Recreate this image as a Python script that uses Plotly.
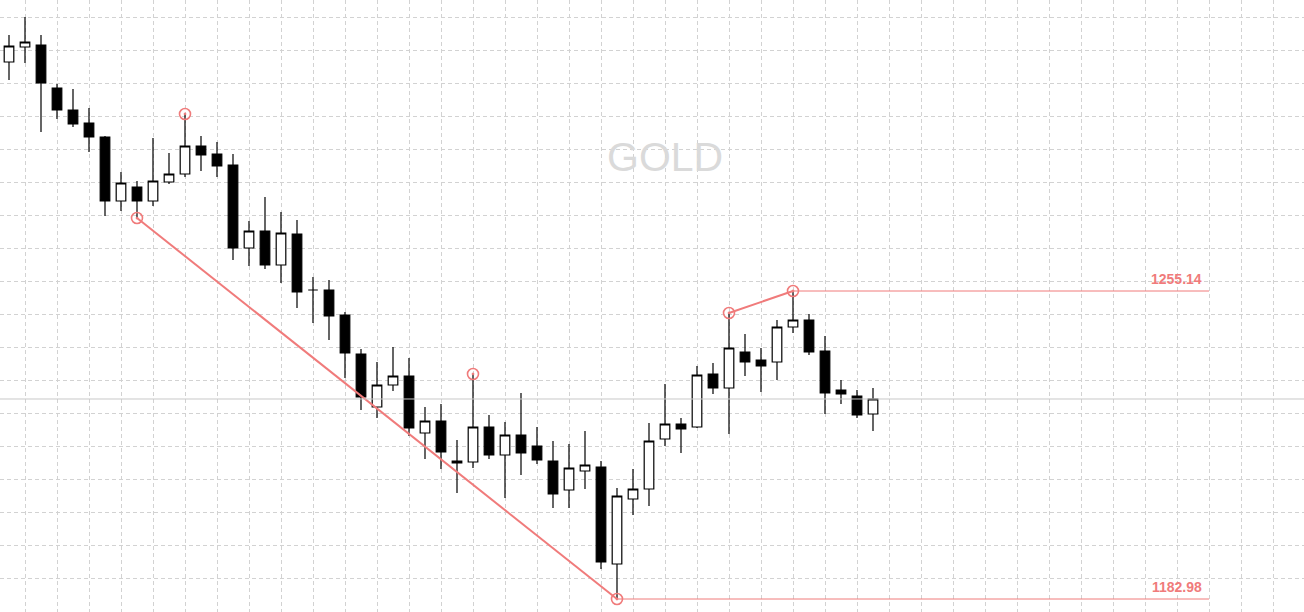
import plotly.graph_objects as go

# ---- data (prices) ----
idx = list(range(55))
opens = [1308.79, 1312.31, 1312.78, 1302.70, 1297.55, 1294.50, 1291.22, 1276.23, 1279.51, 1276.23,
         1280.68, 1282.55, 1289.11, 1287.24, 1284.66, 1265.22, 1269.20, 1261.23, 1268.50, 1255.38,
         1255.38, 1249.52, 1240.38, 1227.96, 1233.12, 1235.23, 1221.87, 1224.68, 1215.31, 1215.08,
         1223.28, 1216.72, 1221.40, 1218.83, 1215.31, 1208.52, 1212.97, 1213.91, 1191.18, 1206.41,
         1208.75, 1220.47, 1223.98, 1223.28, 1235.70, 1232.42, 1240.85, 1238.98, 1238.51, 1246.71,
         1248.35, 1241.08, 1231.95, 1230.54, 1226.32]
highs = [1315.12, 1319.34, 1315.12, 1303.64, 1302.47, 1298.02, 1291.46, 1283.02, 1280.91, 1290.99,
         1287.47, 1296.61, 1291.46, 1290.05, 1287.24, 1271.54, 1277.17, 1273.65, 1271.78, 1258.42,
         1257.72, 1250.22, 1241.55, 1238.51, 1242.02, 1239.44, 1227.96, 1228.67, 1220.23, 1235.70,
         1226.09, 1224.45, 1231.24, 1223.28, 1220.00, 1219.30, 1222.34, 1215.31, 1208.99, 1213.44,
         1224.22, 1233.35, 1225.39, 1237.57, 1238.27, 1249.99, 1245.07, 1241.79, 1248.35, 1255.14,
         1249.75, 1244.60, 1234.29, 1231.95, 1232.42]
lows = [1304.58, 1308.56, 1292.39, 1295.44, 1293.57, 1287.71, 1272.71, 1273.89, 1272.24, 1275.06,
        1280.21, 1281.85, 1283.26, 1281.85, 1262.40, 1261.00, 1260.30, 1257.02, 1251.16, 1247.64,
        1243.66, 1234.76, 1227.26, 1225.39, 1231.71, 1221.17, 1215.78, 1213.44, 1207.81, 1213.67,
        1215.78, 1206.64, 1212.03, 1214.61, 1204.30, 1204.30, 1208.75, 1190.01, 1182.98, 1202.66,
        1204.77, 1218.83, 1217.19, 1223.04, 1231.01, 1221.64, 1235.23, 1231.48, 1234.29, 1245.30,
        1240.15, 1226.32, 1228.67, 1225.39, 1222.34]
closes = [1312.54, 1313.48, 1303.87, 1297.55, 1294.27, 1291.22, 1276.23, 1280.44, 1276.23, 1280.91,
          1282.55, 1289.11, 1287.01, 1284.43, 1265.22, 1269.20, 1261.23, 1268.73, 1254.91, 1255.38,
          1249.28, 1240.62, 1230.31, 1233.12, 1235.23, 1223.04, 1224.68, 1217.42, 1214.84, 1223.28,
          1216.72, 1221.40, 1217.19, 1215.55, 1207.58, 1213.67, 1214.38, 1191.65, 1207.11, 1208.75,
          1220.00, 1223.98, 1222.81, 1235.46, 1232.42, 1241.79, 1238.51, 1237.57, 1246.71, 1248.35,
          1240.85, 1231.24, 1231.01, 1226.09, 1229.84]

pivot_idx = [11, 8, 29, 38, 45, 49]
pivot_val = [1296.61, 1272.24, 1235.70, 1182.98, 1249.99, 1255.14]
trend_low_idx = [8, 38]
trend_low_val = [1272.24, 1182.98]
trend_high_idx = [45, 49]
trend_high_val = [1249.99, 1255.14]
level_vals = [1255.14, 1182.98]
level_start = [49, 38]
level_end = 75
level_labels = ["1255.14", "1182.98"]
symbol = "GOLD"

RED = "#f07b7b"

fig = go.Figure()

fig.add_trace(go.Candlestick(
    x=idx, open=opens, high=highs, low=lows, close=closes,
    increasing=dict(fillcolor="white", line=dict(color="black", width=1.2)),
    decreasing=dict(fillcolor="black", line=dict(color="black", width=1.2)),
    whiskerwidth=0, showlegend=False, hoverinfo="skip"))

# trend lines
fig.add_trace(go.Scatter(x=trend_low_idx, y=trend_low_val, mode="lines",
                         line=dict(color=RED, width=2), showlegend=False, hoverinfo="skip"))
fig.add_trace(go.Scatter(x=trend_high_idx, y=trend_high_val, mode="lines",
                         line=dict(color=RED, width=2), showlegend=False, hoverinfo="skip"))

# level lines
for v, s in zip(level_vals, level_start):
    fig.add_trace(go.Scatter(x=[s, level_end], y=[v, v], mode="lines",
                             line=dict(color=RED, width=1), showlegend=False, hoverinfo="skip"))

# pivot markers
fig.add_trace(go.Scatter(x=pivot_idx, y=pivot_val, mode="markers",
                         marker=dict(symbol="circle-open-dot", size=11, color=RED,
                                     line=dict(color=RED, width=1.6)),
                         showlegend=False, hoverinfo="skip"))

# current price line
fig.add_shape(type="line", xref="paper", x0=0, x1=1, yref="y",
              y0=closes[-1], y1=closes[-1], line=dict(color="#c8c8c8", width=1))

for v, t in zip(level_vals, level_labels):
    fig.add_annotation(x=74.7, y=v, text="<b>" + t + "</b>", showarrow=False,
                       xanchor="right", yanchor="middle", yshift=12,
                       font=dict(family="Liberation Sans, Arial", size=14, color=RED))

fig.add_annotation(xref="paper", yref="paper", x=665 / 1304, y=1 - 157 / 612,
                   text=symbol, showarrow=False, xanchor="center", yanchor="middle",
                   font=dict(family="Liberation Sans, Arial", size=41, color="#dadada"))

# calibration of the price scale (pixel geometry)
px_per_unit = 308 / (1255.14 - 1182.98)
y_top = 1255.14 + 291 / px_per_unit
y_bot = 1255.14 - (612 - 291) / px_per_unit
grid_tick0 = 1255.14 + (291 - 17) / px_per_unit
grid_dtick = 33 / px_per_unit

fig.update_layout(
    width=1304, height=612,
    margin=dict(l=0, r=0, t=0, b=0),
    paper_bgcolor="white", plot_bgcolor="white",
    showlegend=False,
    boxgap=0.4, boxgroupgap=0,
    xaxis=dict(range=[-9 / 16, 1295 / 16], showticklabels=False, ticks="",
               showgrid=True, gridcolor="#d2d2d2", gridwidth=1, griddash="4px,3px",
               tick0=1, dtick=2, zeroline=False, rangeslider=dict(visible=False),
               showline=False, fixedrange=True),
    yaxis=dict(range=[y_bot, y_top], showticklabels=False, ticks="",
               showgrid=True, gridcolor="#d2d2d2", gridwidth=1, griddash="4px,3px",
               tick0=grid_tick0, dtick=grid_dtick, zeroline=False, showline=False,
               fixedrange=True),
)

fig.write_html("out.html", config={"displayModeBar": False},
               post_script="document.body.style.margin='0';document.body.style.overflow='hidden';")
